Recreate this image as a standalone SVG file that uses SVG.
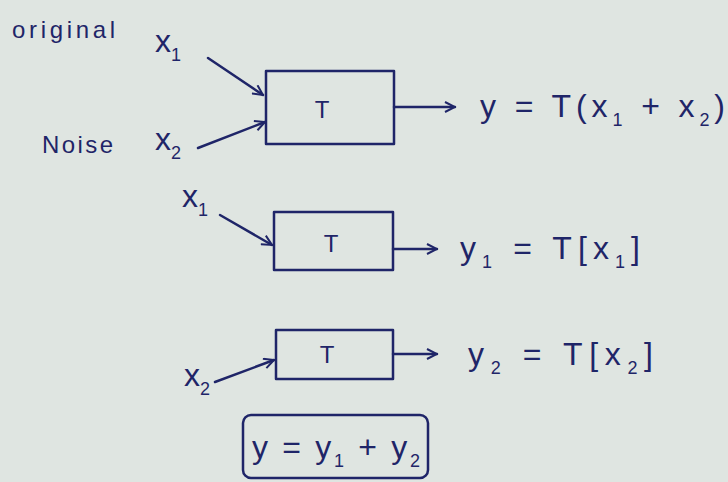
<svg xmlns="http://www.w3.org/2000/svg" width="728" height="482" viewBox="0 0 728 482">
<defs>
<marker id="ah" viewBox="0 0 12 12" refX="11" refY="6" markerWidth="12" markerHeight="12" markerUnits="userSpaceOnUse" orient="auto">
<path d="M1,1 L11,6 L1,11" fill="none" stroke="#1f2568" stroke-width="2"/>
</marker>
</defs>
<style>
.bg{fill:#dfe5e1}
.ink{fill:none;stroke:#1f2568;stroke-width:2.5;stroke-linecap:round;stroke-linejoin:round}
.t{font-family:"Liberation Sans",Arial,sans-serif;fill:#1f2568}
.lbl{font-size:24px}
.bt{font-size:24px}
.eq{font-size:32px}
.sub{font-size:18px}
</style>
<rect class="bg" x="0" y="0" width="728" height="482"/>

<g id="labels">
<text class="t lbl" x="12" y="38" textLength="103" lengthAdjust="spacing">original</text>
<text class="t lbl" x="42" y="153" textLength="71" lengthAdjust="spacing">Noise</text>
</g>

<g id="block1">
<rect class="ink" x="266" y="71" width="128" height="73"/>
<text class="t bt" x="322" y="118" text-anchor="middle">T</text>
<text class="t eq" x="155" y="52">x<tspan class="sub" dy="9">1</tspan></text>
<text class="t eq" x="155" y="150">x<tspan class="sub" dy="9">2</tspan></text>
<text class="t eq" x="480" y="117" textLength="245" lengthAdjust="spacing">y = T(x<tspan class="sub" dy="9">1</tspan><tspan dy="-9"> + x</tspan><tspan class="sub" dy="9">2</tspan><tspan dy="-9">)</tspan></text>
</g>

<g id="block2">
<rect class="ink" x="274" y="212" width="119" height="58"/>
<text class="t bt" x="331" y="252" text-anchor="middle">T</text>
<text class="t eq" x="182" y="207">x<tspan class="sub" dy="9">1</tspan></text>
<text class="t eq" x="460" y="259" textLength="180" lengthAdjust="spacing">y<tspan class="sub" dy="9">1</tspan><tspan dy="-9"> = T[x</tspan><tspan class="sub" dy="9">1</tspan><tspan dy="-9">]</tspan></text>
</g>

<g id="block3">
<rect class="ink" x="276" y="330" width="117" height="49"/>
<text class="t bt" x="327" y="363" text-anchor="middle">T</text>
<text class="t eq" x="184" y="386">x<tspan class="sub" dy="9">2</tspan></text>
<text class="t eq" x="468" y="365" textLength="185" lengthAdjust="spacing">y<tspan class="sub" dy="9">2</tspan><tspan dy="-9"> = T[x</tspan><tspan class="sub" dy="9">2</tspan><tspan dy="-9">]</tspan></text>
</g>

<g id="result">
<rect class="ink" x="243" y="415" width="185" height="63" rx="8"/>
<text class="t eq" x="252" y="458" textLength="168" lengthAdjust="spacing">y = y<tspan class="sub" dy="9">1</tspan><tspan dy="-9"> + y</tspan><tspan class="sub" dy="9">2</tspan></text>
</g>

<g id="connectors">
<line class="ink" x1="208" y1="58" x2="263" y2="95" marker-end="url(#ah)"/>
<line class="ink" x1="198" y1="148" x2="265" y2="122" marker-end="url(#ah)"/>
<line class="ink" x1="394" y1="107" x2="455" y2="107" marker-end="url(#ah)"/>
<line class="ink" x1="220" y1="215" x2="272" y2="245" marker-end="url(#ah)"/>
<line class="ink" x1="393" y1="249" x2="437" y2="249" marker-end="url(#ah)"/>
<line class="ink" x1="215" y1="382" x2="274" y2="360" marker-end="url(#ah)"/>
<line class="ink" x1="393" y1="354" x2="437" y2="354" marker-end="url(#ah)"/>
</g>
</svg>
